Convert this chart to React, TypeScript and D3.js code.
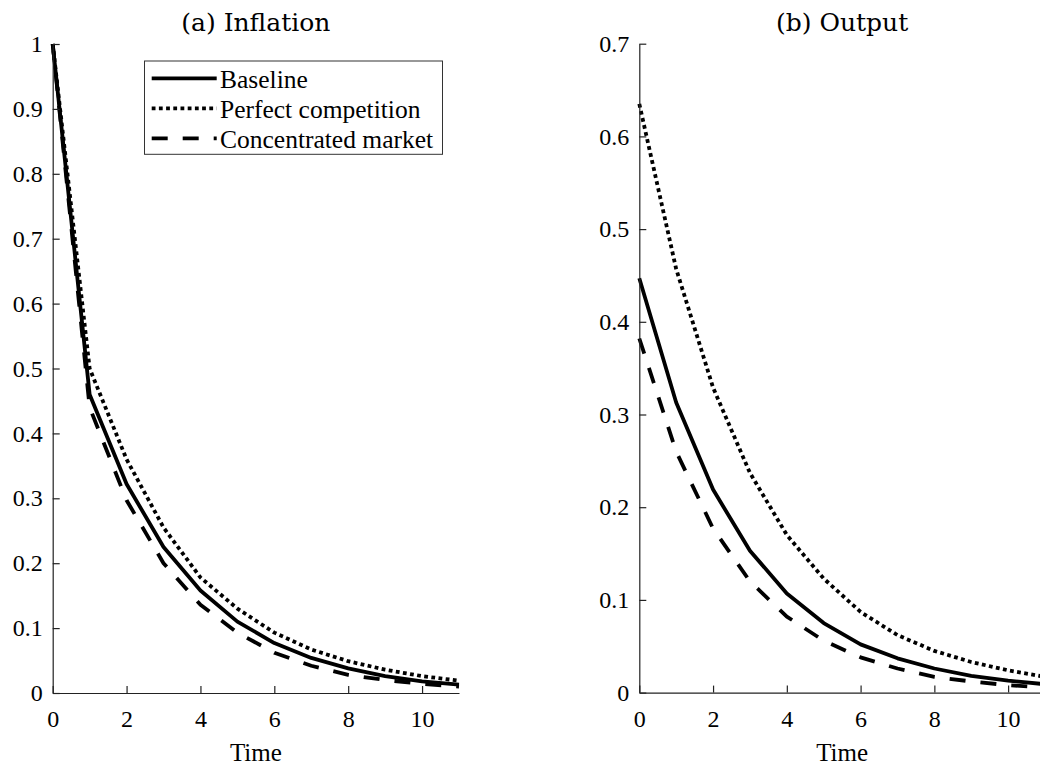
import { useEffect, useRef } from 'react'
import * as d3 from 'd3'

// values
const time = [0, 1, 2, 3, 4, 5, 6, 7, 8, 9, 10, 11]
const inflationBaseline = [1, 0.46, 0.322, 0.225, 0.158, 0.11, 0.077, 0.054, 0.038, 0.026, 0.018, 0.013]
const inflationPerfect = [1, 0.5, 0.36, 0.255, 0.178, 0.13, 0.093, 0.067, 0.049, 0.036, 0.026, 0.019]
const inflationConcentrated = [1, 0.44, 0.297, 0.2, 0.136, 0.093, 0.062, 0.042, 0.028, 0.02, 0.014, 0.01]
const outputBaseline = [0.447, 0.313, 0.219, 0.153, 0.107, 0.075, 0.052, 0.037, 0.026, 0.018, 0.013, 0.009]
const outputPerfect = [0.635, 0.457, 0.329, 0.237, 0.17, 0.123, 0.087, 0.062, 0.045, 0.033, 0.024, 0.017]
const outputConcentrated = [0.382, 0.26, 0.177, 0.12, 0.082, 0.056, 0.038, 0.026, 0.017, 0.012, 0.008, 0.0055]

const seriesNames = ['Baseline', 'Perfect competition', 'Concentrated market']
const xTicks = [0, 2, 4, 6, 8, 10]
const inflationTicks = [0, 0.1, 0.2, 0.3, 0.4, 0.5, 0.6, 0.7, 0.8, 0.9, 1]
const outputTicks = [0, 0.1, 0.2, 0.3, 0.4, 0.5, 0.6, 0.7]
const panelTitles = ['(a) Inflation', '(b) Output']
const xLabel = 'Time'

const W = 1040
const H = 767
const dashes = [null, '3.8 3.4', '16 15']
const serif = '"Liberation Serif", serif'

export default function App() {
  const ref = useRef<SVGSVGElement>(null)

  useEffect(() => {
    if (!ref.current) return
    const svg = d3.select(ref.current)
    svg.selectAll('*').remove()

    const panels = [
      { left: 52.7, right: 459, top: 44, bottom: 693, yMax: 1, ticks: inflationTicks, series: [inflationBaseline, inflationPerfect, inflationConcentrated], title: panelTitles[0], legend: true },
      { left: 639.3, right: 1045, top: 43.7, bottom: 692.6, yMax: 0.7, ticks: outputTicks, series: [outputBaseline, outputPerfect, outputConcentrated], title: panelTitles[1], legend: false },
    ]

    panels.forEach((p) => {
      const x = d3.scaleLinear().domain([0, 11]).range([p.left, p.right])
      const y = d3.scaleLinear().domain([0, p.yMax]).range([p.bottom, p.top])

      const line = d3.line<number>()
        .x((_, i) => x(time[i]))
        .y((d) => y(d))

      p.series.forEach((s, i) => {
        svg.append('path')
          .datum(s)
          .attr('fill', 'none')
          .attr('stroke', '#000')
          .attr('stroke-width', 3.8)
          .attr('stroke-dasharray', dashes[i])
          .attr('stroke-linejoin', 'round')
          .attr('d', line)
      })

      const xAxis = d3.axisBottom(x)
        .tickValues(xTicks)
        .tickSize(-7)
        .tickSizeOuter(0)
        .tickPadding(17)
        .tickFormat(d3.format('d'))

      const yAxis = d3.axisLeft(y)
        .tickValues(p.ticks)
        .tickSize(-7)
        .tickSizeOuter(0)
        .tickPadding(10)
        .tickFormat((d) => d3.format('~g')(+d))

      const gx = svg.append('g').attr('transform', `translate(0, ${p.bottom})`).call(xAxis)
      const gy = svg.append('g').attr('transform', `translate(${p.left}, 0)`).call(yAxis)

      ;[gx, gy].forEach((g) => {
        g.attr('font-family', serif)
        g.selectAll('text')
          .attr('fill', '#000')
          .attr('font-family', serif)
          .attr('font-size', 24)
        g.selectAll('line').attr('stroke', '#222').attr('stroke-width', 1.2)
        g.select('.domain').attr('stroke', '#222').attr('stroke-width', 1.2)
      })

      const cx = (p.left + p.right) / 2
      svg.append('text')
        .attr('x', cx)
        .attr('y', 31)
        .attr('text-anchor', 'middle')
        .attr('font-family', '"DejaVu Serif", serif')
        .attr('font-size', 25)
        .text(p.title)

      svg.append('text')
        .attr('x', cx)
        .attr('y', 761)
        .attr('text-anchor', 'middle')
        .attr('font-family', serif)
        .attr('font-size', 25)
        .text(xLabel)

      if (p.legend) {
        const lg = svg.append('g')
        lg.append('rect')
          .attr('x', 144.5)
          .attr('y', 61)
          .attr('width', 298)
          .attr('height', 93.3)
          .attr('fill', '#fff')
          .attr('stroke', '#333')
          .attr('stroke-width', 1)
        seriesNames.forEach((name, i) => {
          const ly = 78.3 + i * 30
          lg.append('line')
            .attr('x1', 151.7)
            .attr('x2', 216.7)
            .attr('y1', ly)
            .attr('y2', ly)
            .attr('stroke', '#000')
            .attr('stroke-width', 3.8)
            .attr('stroke-dasharray', dashes[i])
          lg.append('text')
            .attr('x', 220)
            .attr('y', ly + 9.7)
            .attr('font-family', serif)
            .attr('font-size', 25.5)
            .text(name)
        })
      }
    })
  }, [])

  return (
    <div style={{ position: 'absolute', left: 0, top: 0 }}>
      <svg ref={ref} width={W} height={H} style={{ display: 'block', background: '#fff', fontFamily: 'Liberation Serif, serif' }}></svg>
    </div>
  )
}
